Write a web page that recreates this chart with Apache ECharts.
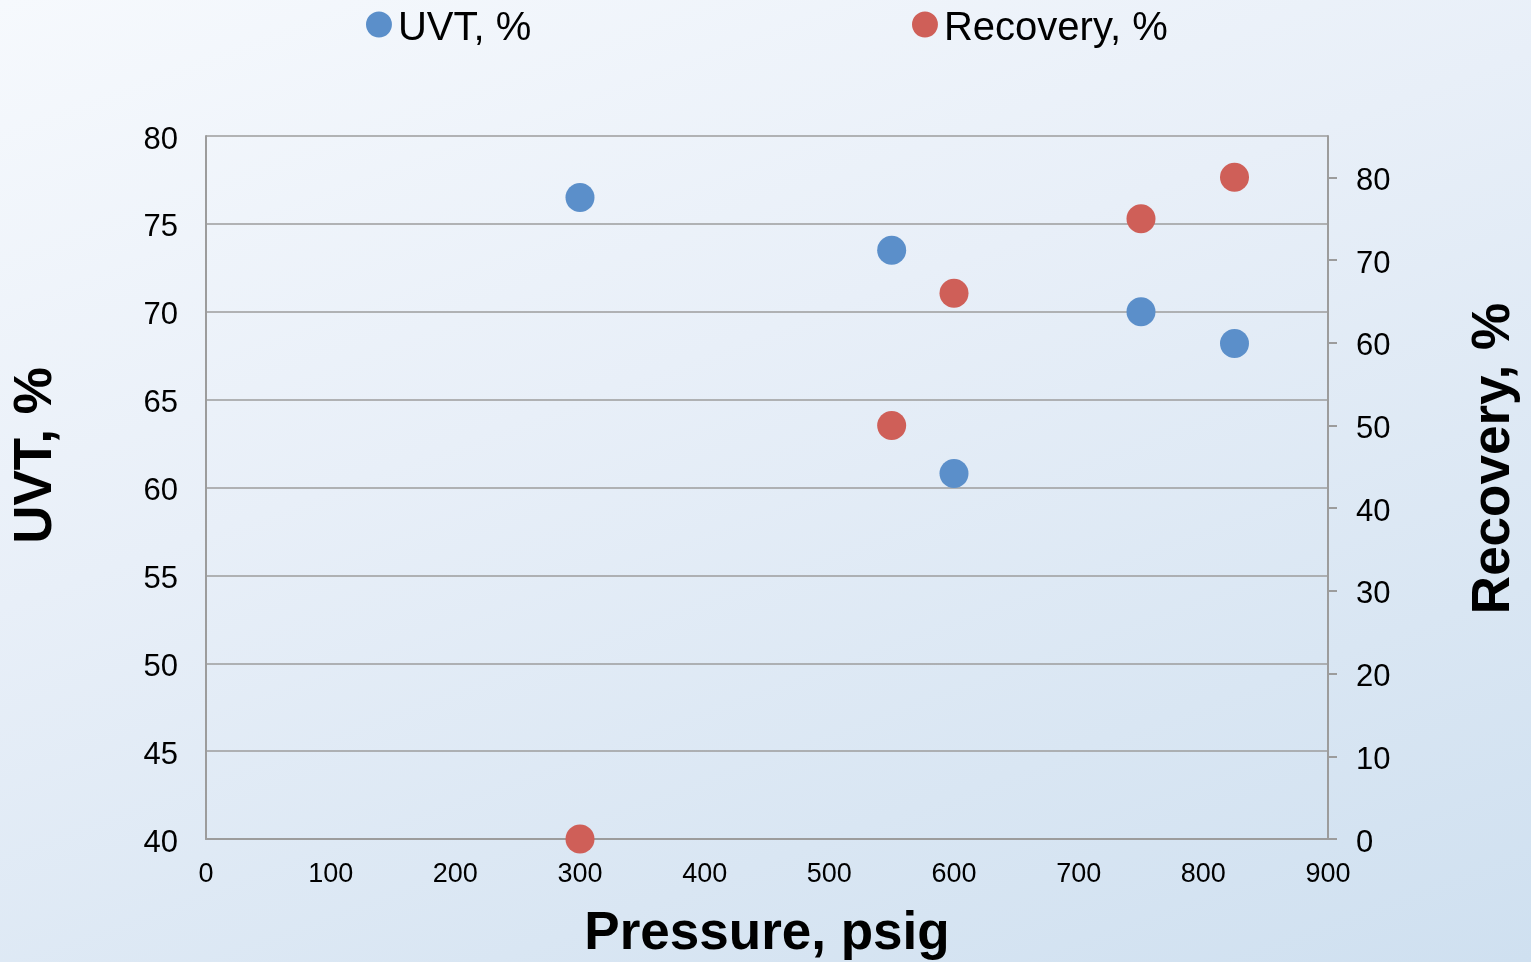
<!DOCTYPE html>
<html>
<head>
<meta charset="utf-8">
<script src="https://cdn.jsdelivr.net/npm/echarts@6/dist/echarts.min.js"></script>
<style>
html,body{margin:0;padding:0;width:1531px;height:962px;overflow:hidden;
background: linear-gradient(160deg, #f6f9fd 0%, #e8eff8 40%, #d9e6f3 75%, #cfe0f0 100%);}
#c{width:1531px;height:962px;}
</style>
</head>
<body>
<div id="c"></div>
<script>
const pressure = [300, 550, 600, 750, 825];
const uvt = [76.5, 73.5, 60.8, 70.0, 68.2];
const recovery = [0, 50, 66, 75, 80];
const xTicks = [0, 100, 200, 300, 400, 500, 600, 700, 800, 900];
const rightTicks = [0, 10, 20, 30, 40, 50, 60, 70, 80];

const uvtData = pressure.map((p, i) => [p, uvt[i]]);
const recData = pressure.map((p, i) => [p, recovery[i]]);

const chart = echarts.init(document.getElementById('c'), null, {renderer: 'canvas'});
const font = '"Liberation Sans", Arial, sans-serif';
const gray = '#9c9c9c';
// circle icon raised above the item's centre (trailing point only extends the bounds)
const legendIcon = 'path://M0,10A10,10,0,1,1,20,10A10,10,0,1,1,0,10ZM10,27L10.01,27';
chart.setOption({
  backgroundColor: 'transparent',
  textStyle: {fontFamily: font},
  animation: false,
  legend: [
    {data: ['UVT, %'], left: 361, top: 4, itemWidth: 26, itemHeight: 35, icon: legendIcon,
     textStyle: {fontSize: 40, color: '#000', fontFamily: font, padding: [0,0,0,1]}},
    {data: ['Recovery, %'], left: 907, top: 4, itemWidth: 26, itemHeight: 35, icon: legendIcon,
     textStyle: {fontSize: 40, color: '#000', fontFamily: font, padding: [0,0,0,1]}}
  ],
  grid: {left: 206, right: 203, top: 136, bottom: 123, containLabel: false, outerBoundsMode: 'none'},
  xAxis: {
    type: 'value', min: 0, max: 900, interval: 100,
    name: 'Pressure, psig', nameLocation: 'middle', nameGap: 69,
    nameTextStyle: {fontSize: 53, fontWeight: 'bold', color: '#000', fontFamily: font},
    axisLine: {show: true, lineStyle: {color: gray, width: 2}},
    axisTick: {show: false},
    splitLine: {show: false},
    axisLabel: {fontSize: 27, color: '#000', margin: 22, fontFamily: font,
      customValues: xTicks}
  },
  yAxis: [
    {
      type: 'value', min: 40, max: 80, interval: 5, position: 'left',
      name: 'UVT, %', nameLocation: 'middle', nameGap: 143, nameRotate: 90,
      nameTextStyle: {fontSize: 53, fontWeight: 'bold', color: '#000', fontFamily: font,
        padding: [0, 0, 0, 64]},
      axisLine: {show: true, lineStyle: {color: gray, width: 2}},
      axisTick: {show: false},
      splitLine: {show: true, lineStyle: {color: gray, width: 1.5}},
      axisLabel: {fontSize: 31, color: '#000', margin: 28, fontFamily: font,
        verticalAlign: 'top', lineHeight: 8}
    },
    {
      type: 'value', min: 0, max: 85, interval: 10, position: 'right',
      name: 'Recovery, %', nameLocation: 'middle', nameGap: 140, nameRotate: 90,
      nameTextStyle: {fontSize: 53, fontWeight: 'bold', color: '#000', fontFamily: font,
        padding: [0, 0, 0, 58]},
      axisLine: {show: true, lineStyle: {color: gray, width: 2}},
      axisTick: {show: true, inside: false, length: 9, lineStyle: {color: gray, width: 2},
        customValues: rightTicks},
      splitLine: {show: false},
      axisLabel: {fontSize: 31, color: '#000', margin: 28, fontFamily: font,
        verticalAlign: 'top', lineHeight: 8, customValues: rightTicks}
    }
  ],
  series: [
    {name: 'UVT, %', type: 'scatter', yAxisIndex: 0, data: uvtData, symbolSize: 29,
     itemStyle: {color: '#5b8fca', opacity: 1}},
    {name: 'Recovery, %', type: 'scatter', yAxisIndex: 1, data: recData, symbolSize: 29,
     itemStyle: {color: '#cf5f58', opacity: 1}}
  ]
});
</script>
</body>
</html>
